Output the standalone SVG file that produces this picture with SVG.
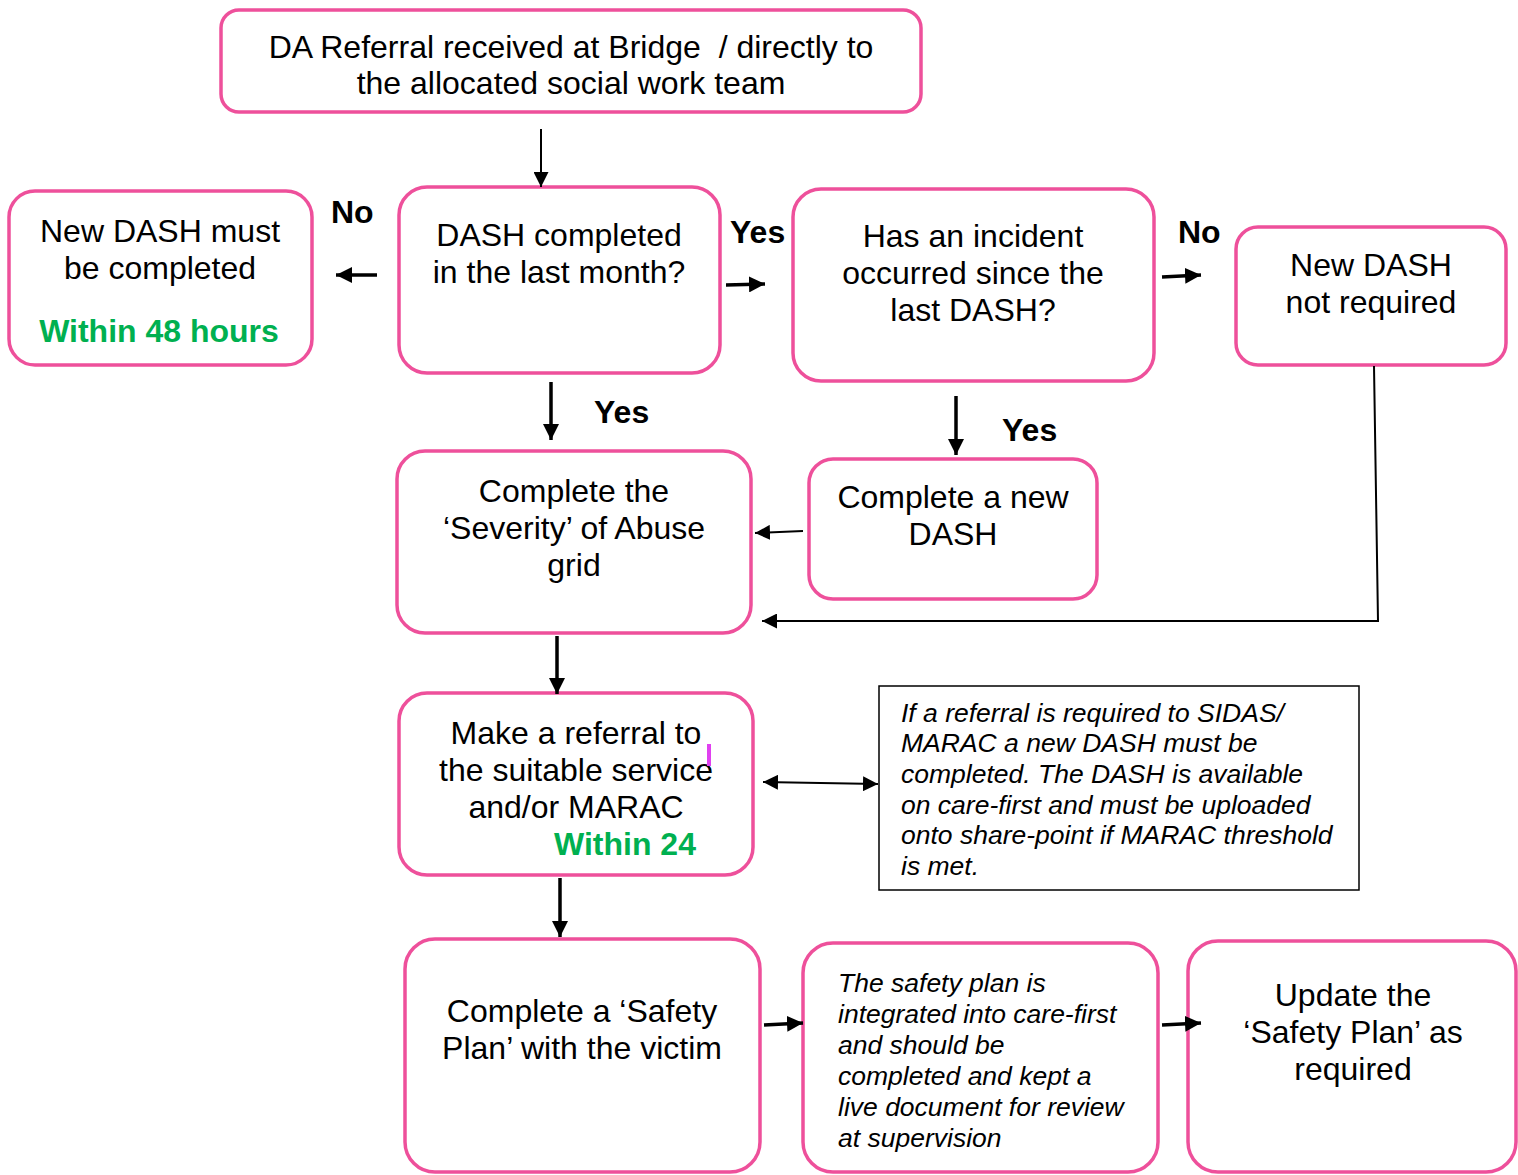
<svg xmlns="http://www.w3.org/2000/svg" width="1518" height="1175" viewBox="0 0 1518 1175">
<style>
.box{fill:#fff;stroke:#EE509B;stroke-width:3.5}
.t{font-family:"Liberation Sans",Arial,sans-serif;font-size:32px;fill:#000;text-anchor:middle}
.g{font-family:"Liberation Sans",Arial,sans-serif;font-size:32px;font-weight:bold;fill:#00B050}
.lb{font-family:"Liberation Sans",Arial,sans-serif;font-size:32px;font-weight:bold;fill:#000}
.it{font-family:"Liberation Sans",Arial,sans-serif;font-size:26.5px;font-style:italic;fill:#000}
.c{fill:none;stroke:#000}
.thick{stroke-width:3.5}
.thin{stroke-width:2}
</style>
<defs>
<marker id="ahL" viewBox="0 0 10 10" refX="10" refY="5" markerWidth="16" markerHeight="16" markerUnits="userSpaceOnUse" orient="auto"><path d="M0,0 L10,5 L0,10 z" fill="#000"/></marker>
<marker id="ahM" viewBox="0 0 10 10" refX="10" refY="5" markerWidth="15" markerHeight="15" markerUnits="userSpaceOnUse" orient="auto-start-reverse"><path d="M0,0 L10,5 L0,10 z" fill="#000"/></marker>
</defs>

<g id="n-referral">
<rect class="box" x="221" y="10" width="700" height="102" rx="18"/>
<text class="t" x="571" y="58">DA Referral received at Bridge&#160; / directly to</text>
<text class="t" x="571" y="94">the allocated social work team</text>
</g>

<g id="n-newdash-must">
<rect class="box" x="9" y="191" width="303" height="174" rx="26"/>
<text class="t" x="160" y="242">New DASH must</text>
<text class="t" x="160" y="279">be completed</text>
<text class="g" x="159" y="342" text-anchor="middle">Within 48 hours</text>
</g>

<g id="n-dash-completed">
<rect class="box" x="399" y="187" width="321" height="186" rx="28"/>
<text class="t" x="559" y="246">DASH completed</text>
<text class="t" x="559" y="283">in the last month?</text>
</g>

<g id="n-incident">
<rect class="box" x="793" y="189" width="361" height="192" rx="28"/>
<text class="t" x="973" y="247">Has an incident</text>
<text class="t" x="973" y="284">occurred since the</text>
<text class="t" x="973" y="321">last DASH?</text>
</g>

<g id="n-not-required">
<rect class="box" x="1236" y="227" width="270" height="138" rx="22"/>
<text class="t" x="1371" y="276">New DASH</text>
<text class="t" x="1371" y="313">not required</text>
</g>

<g id="n-severity">
<rect class="box" x="397" y="451" width="354" height="182" rx="28"/>
<text class="t" x="574" y="502">Complete the</text>
<text class="t" x="574" y="539">‘Severity’ of Abuse</text>
<text class="t" x="574" y="576">grid</text>
</g>

<g id="n-new-dash">
<rect class="box" x="809" y="459" width="288" height="140" rx="24"/>
<text class="t" x="953" y="508">Complete a new</text>
<text class="t" x="953" y="545">DASH</text>
</g>

<g id="n-make-referral">
<rect class="box" x="399" y="693" width="354" height="182" rx="28"/>
<text class="t" x="576" y="744">Make a referral to</text>
<text class="t" x="576" y="781">the suitable service</text>
<text class="t" x="576" y="818">and/or MARAC</text>
<text class="g" x="554" y="855">Within 24</text>
<rect x="707" y="744" width="4" height="22" fill="#E040F0"/>
</g>

<g id="n-note">
<rect x="879" y="686" width="480" height="204" fill="#fff" stroke="#000" stroke-width="1.5"/>
<text class="it" x="901" y="722">If a referral is required to SIDAS/</text>
<text class="it" x="901" y="752">MARAC a new DASH must be</text>
<text class="it" x="901" y="783">completed. The DASH is available</text>
<text class="it" x="901" y="814">on care-first and must be uploaded</text>
<text class="it" x="901" y="844">onto share-point if MARAC threshold</text>
<text class="it" x="901" y="875">is met.</text>
</g>

<g id="n-safety-plan">
<rect class="box" x="405" y="939" width="355" height="233" rx="30"/>
<text class="t" x="582" y="1022">Complete a ‘Safety</text>
<text class="t" x="582" y="1059">Plan’ with the victim</text>
</g>

<g id="n-integrated">
<rect class="box" x="803" y="943" width="355" height="229" rx="30"/>
<text class="it" x="838" y="992">The safety plan is</text>
<text class="it" x="838" y="1023">integrated into care-first</text>
<text class="it" x="838" y="1054">and should be</text>
<text class="it" x="838" y="1085">completed and kept a</text>
<text class="it" x="838" y="1116">live document for review</text>
<text class="it" x="838" y="1147">at supervision</text>
</g>

<g id="n-update">
<rect class="box" x="1188" y="941" width="328" height="231" rx="30"/>
<text class="t" x="1353" y="1006">Update the</text>
<text class="t" x="1353" y="1043">‘Safety Plan’ as</text>
<text class="t" x="1353" y="1080">required</text>
</g>

<g id="connectors">
<line class="c thin" x1="541" y1="129" x2="541" y2="187" marker-end="url(#ahM)"/>
<line class="c thick" x1="377" y1="275" x2="336" y2="275" marker-end="url(#ahL)"/>
<line class="c thick" x1="726" y1="285" x2="765" y2="284" marker-end="url(#ahL)"/>
<line class="c thick" x1="1162" y1="277" x2="1201" y2="275" marker-end="url(#ahL)"/>
<line class="c thick" x1="551" y1="382" x2="551" y2="440" marker-end="url(#ahL)"/>
<line class="c thick" x1="956" y1="396" x2="956" y2="455" marker-end="url(#ahL)"/>
<line class="c thin" x1="803" y1="531" x2="755" y2="533" marker-end="url(#ahM)"/>
<polyline class="c thin" points="1374,366 1378,621 762,621" marker-end="url(#ahM)"/>
<line class="c thick" x1="557" y1="636" x2="557" y2="694" marker-end="url(#ahL)"/>
<line class="c thin" x1="763" y1="782" x2="878" y2="784" marker-start="url(#ahM)" marker-end="url(#ahM)"/>
<line class="c thick" x1="560" y1="878" x2="560" y2="937" marker-end="url(#ahL)"/>
<line class="c thick" x1="764" y1="1025" x2="803" y2="1023" marker-end="url(#ahL)"/>
<line class="c thick" x1="1162" y1="1025" x2="1201" y2="1023" marker-end="url(#ahL)"/>
<text class="lb" x="331" y="223">No</text>
<text class="lb" x="730" y="243">Yes</text>
<text class="lb" x="1178" y="243">No</text>
<text class="lb" x="594" y="423">Yes</text>
<text class="lb" x="1002" y="441">Yes</text>
</g>
</svg>
